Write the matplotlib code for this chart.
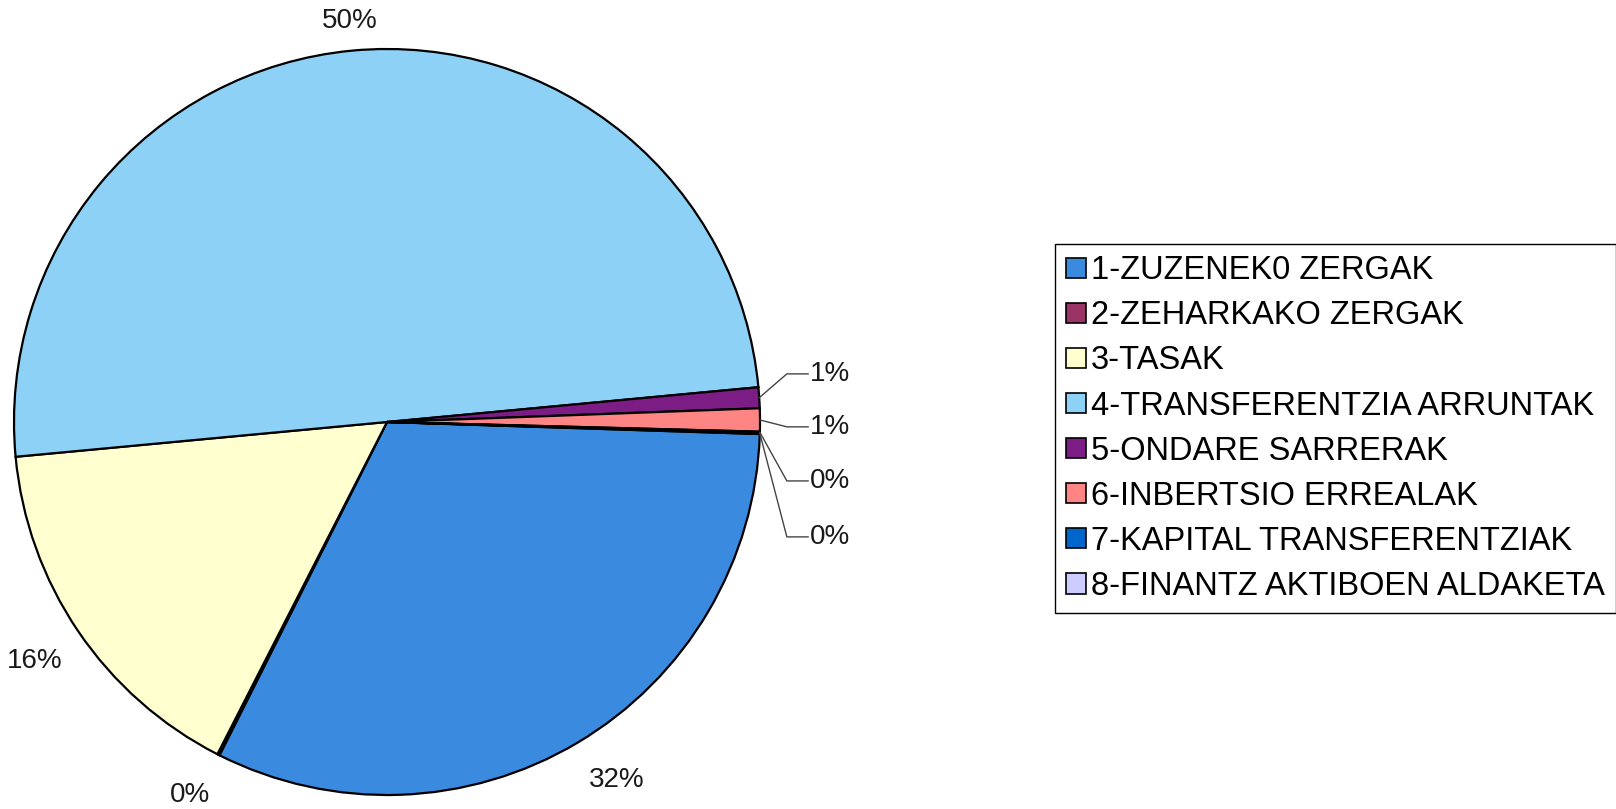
import numpy as np
import matplotlib
matplotlib.use('Agg')
import matplotlib.pyplot as plt

plt.rcParams['font.family'] = ['Liberation Sans', 'DejaVu Sans']

labels = ['1-ZUZENEK0 ZERGAK', '2-ZEHARKAKO ZERGAK', '3-TASAK',
          '4-TRANSFERENTZIA ARRUNTAK', '5-ONDARE SARRERAK',
          '6-INBERTSIO ERREALAK', '7-KAPITAL TRANSFERENTZIAK',
          '8-FINANTZ AKTIBOEN ALDAKETA']
values = [31.9, 0.1, 16.0, 50.0, 0.9, 1.0, 0.05, 0.05]
colors = ['#3a8ae0', '#993366', '#ffffcf', '#8ed1f7',
          '#7b1d85', '#ff8585', '#0066cc', '#ccccff']

W, H = 1616, 809
fig = plt.figure(figsize=(W / 100, H / 100), dpi=100)

# pie box in pixels: center (387, 422), radius 373
cx, cy, r = 387, 422, 373
ax = fig.add_axes([(cx - r) / W, (H - cy - r) / H, 2 * r / W, 2 * r / H])
wedges, _ = ax.pie(values, colors=colors, startangle=-1.85, counterclock=False,
                   radius=1.0, wedgeprops=dict(edgecolor='black', linewidth=1.6))
ax.set_xlim(-1, 1)
ax.set_ylim(-1, 1)
ax.set_aspect('equal')
ax.axis('off')

total = sum(values)
pct = ['%.0f%%' % (v / total * 100) for v in values]

# big slices: label near mid angle
big = [0, 1, 2, 3]
big_dist = [1.14, 1.13, 1.14, 1.08]
big_shift = [2.0, -1.0, 0.0, 0.0]   # degrees
for i, d, s in zip(big, big_dist, big_shift):
    w = wedges[i]
    a = np.deg2rad((w.theta1 + w.theta2) / 2 + s)
    ax.text(d * np.cos(a), d * np.sin(a), pct[i], ha='center', va='center',
            fontsize=20, color='#1a1a1a', clip_on=False)

# small slices on the right with leader lines
small = [4, 5, 6, 7]
small_y = [0.129, -0.013, -0.158, -0.308]
for i, ly in zip(small, small_y):
    w = wedges[i]
    a = np.deg2rad((w.theta1 + w.theta2) / 2)
    x0, y0 = np.cos(a), np.sin(a)
    ax.plot([x0, 1.072, 1.129], [y0, ly, ly], color='#444444', lw=1.0,
            clip_on=False)
    ax.text(1.135, ly, pct[i], ha='left', va='center', fontsize=20,
            color='#1a1a1a', clip_on=False)

leg = fig.legend(wedges, labels, loc='upper left',
                 bbox_to_anchor=(1055 / W, 1 - 244 / H),
                 bbox_transform=fig.transFigure, fontsize=23.5,
                 frameon=True, fancybox=False, framealpha=1,
                 edgecolor='black', borderpad=0.35, handlelength=0.6,
                 handleheight=0.6, handletextpad=0.15, labelspacing=0.43,
                 borderaxespad=0)
leg.get_frame().set_linewidth(1.0)
for h in leg.legend_handles:
    h.set_edgecolor('black')
    h.set_linewidth(1.2)

fig.savefig('out.png', dpi=100, facecolor='white')
